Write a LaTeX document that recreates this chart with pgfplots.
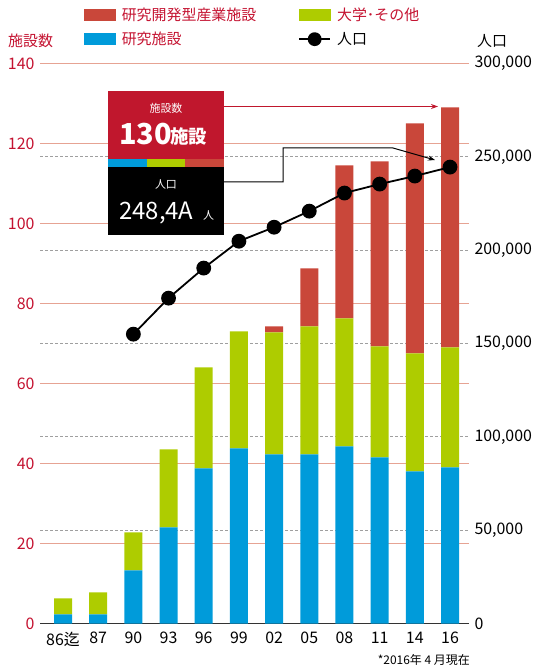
\documentclass[border=0pt]{standalone}
\usepackage{pgfplots}
\pgfplotsset{compat=1.18}
\usetikzlibrary{arrows.meta}
\usepackage{fontspec}
\setmainfont{Noto Sans CJK JP}
\definecolor{cRed}{HTML}{C9473A}
\definecolor{cGreen}{HTML}{AECC00}
\definecolor{cBlue}{HTML}{009BDA}
\definecolor{cCrimson}{HTML}{C41230}
\definecolor{cBox}{HTML}{C0172D}
\definecolor{cGrid}{HTML}{E6A393}
\pgfplotstableread{
x blue green red
0 2.25 4.0 0
1 2.25 5.5 0
2 13.25 9.5 0
3 24 19.5 0
4 38.75 25.25 0
5 43.75 29.25 0
6 42.25 30.5 1.5
7 42.25 32.0 14.5
8 44.25 32.0 38.25
9 41.5 27.75 46.25
10 38.0 29.5 57.5
11 39.0 30.0 60.0
}\facilities
\pgfplotstableread{
x pop
2 155000
3 174300
4 190400
5 204800
6 212300
7 220900
8 230600
9 235400
10 239700
11 244500
}\population
\begin{document}
\begin{tikzpicture}
\path[use as bounding box] (0,0) rectangle (536bp,668bp);
\begin{axis}[
  at={(40bp,44.5bp)}, anchor=south west,
  scale only axis, width=429bp, height=560bp,
  xmin=-0.654, xmax=11.54, ymin=0, ymax=140,
  ybar stacked, bar width=18bp,
  axis x line*=bottom, axis y line*=left,
  y axis line style={draw=none},
  x axis line style={draw=black!80, line width=1.2bp},
  xtick={0,...,11},
  xticklabels={86迄,87,90,93,96,99,02,05,08,11,14,16},
  ytick={0,20,...,140},
  yticklabels={0,20,40,60,80,100,120,140},
  major tick length=0pt,
  ymajorgrids, major grid style={cGrid, line width=1.3bp},
  extra y ticks={23.3333,46.6667,70,93.3333,116.6667},
  extra y tick labels={},
  extra y tick style={grid=major, major grid style={gray!75, line width=0.8bp, dash pattern=on 3bp off 2bp}},
  yticklabel style={text=cCrimson, font=\fontsize{16}{16}\selectfont, xshift=-2bp},
  xticklabel style={text=black, font=\fontsize{16}{16}\selectfont, yshift=-5bp},
]
\addplot[fill=cBlue, draw=none] table[x=x, y=blue] {\facilities};
\addplot[fill=cGreen, draw=none] table[x=x, y=green] {\facilities};
\addplot[fill=cRed, draw=none] table[x=x, y=red] {\facilities};
\end{axis}
\begin{axis}[
  at={(40bp,44.5bp)}, anchor=south west,
  scale only axis, width=429bp, height=560bp,
  xmin=-0.654, xmax=11.54, ymin=0, ymax=300000,
  axis x line=none, axis y line*=right,
  y axis line style={draw=none},
  ytick={0,50000,100000,150000,200000,250000,300000},
  yticklabels={0,{50,000},{100,000},{150,000},{200,000},{250,000},{300,000}},
  scaled y ticks=false,
  major tick length=0pt,
  yticklabel style={text=black, font=\fontsize{16}{16}\selectfont, xshift=2bp},
  legend columns=2, legend cell align=left,
  legend style={at={(axis description cs:0.103,1.103)}, anchor=north west,
    draw=none, fill=none, inner sep=0pt, row sep=6bp,
    font=\fontsize{15}{15}\selectfont, text=cCrimson,
    nodes={inner sep=2bp},
    /tikz/every odd column/.append style={column sep=4bp},
    /tikz/every even column/.append style={column sep=40bp}},
]
\addlegendimage{legend image code/.code={\fill[cRed] (0bp,-5.5bp) rectangle (31bp,5.5bp);}}
\addlegendentry{研究開発型産業施設}
\addlegendimage{legend image code/.code={\fill[cGreen] (0bp,-5.5bp) rectangle (31bp,5.5bp);}}
\addlegendentry{大学･その他}
\addlegendimage{legend image code/.code={\fill[cBlue] (0bp,-5.5bp) rectangle (31bp,5.5bp);}}
\addlegendentry{研究施設}
\addplot[black, line width=1.8bp, mark=*, mark size=6.5bp,
  legend image code/.code={\draw[black, line width=1.8bp] (0bp,0bp) -- (31bp,0bp); \fill[black] (15.5bp,0bp) circle (6bp);}]
  table[x=x, y=pop] {\population};
\addlegendentry{\textcolor{black}{人口}}
\end{axis}
\begin{scope}[x=1bp, y=1bp]
\node[text=cCrimson, font=\fontsize{15}{15}\selectfont, anchor=west, inner sep=0pt] at (8,627) {施設数};
\node[text=black, font=\fontsize{15}{15}\selectfont, anchor=west, inner sep=0pt] at (477,627) {人口};
\node[text=black, font=\fontsize{12}{12}\selectfont, anchor=east, inner sep=0pt] at (470,8) {*2016年 4 月現在};
% callout
\fill[cBox] (108,509) rectangle (224,577);
\fill[cBlue] (108,501) rectangle (147,509);
\fill[cGreen] (147,501) rectangle (185,509);
\fill[cRed] (185,501) rectangle (224,509);
\fill[black] (108,433) rectangle (224,501);
\node[text=white, font=\fontsize{11}{11}\selectfont, inner sep=0pt] at (166,560) {施設数};
\node[text=white, font=\bfseries\fontsize{29}{29}\selectfont, anchor=base west, inner sep=0pt] at (119,523) {130};
\node[text=white, font=\bfseries\fontsize{18.5}{18.5}\selectfont, anchor=base west, inner sep=0pt] at (170,524) {施設};
\node[text=white, font=\fontsize{11}{11}\selectfont, inner sep=0pt] at (166,484) {人口};
\node[text=white, font=\fontsize{24}{24}\selectfont, anchor=base west, inner sep=0pt] at (119,448) {248,4A};
\node[text=white, font=\fontsize{11}{11}\selectfont, anchor=base west, inner sep=0pt] at (203,448) {人};
\draw[cBox, line width=1bp, -{Stealth[length=7bp,width=5bp]}] (224,561.5) -- (438,561.5);
\draw[black, line width=1bp, -{Stealth[length=7bp,width=5bp]}] (224,486) -- (283,486) -- (283,520) -- (393,520) -- (435,508);
\end{scope}
\end{tikzpicture}
\end{document}
